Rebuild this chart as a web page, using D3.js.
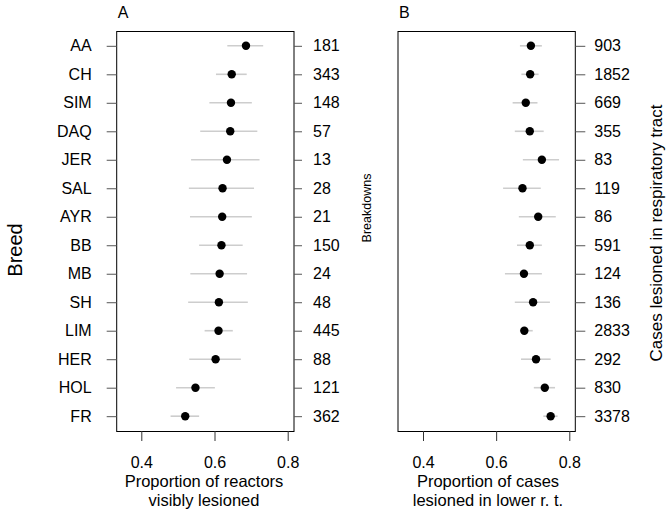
<!DOCTYPE html>
<html>
<head>
<meta charset="utf-8">
<script src="https://cdn.jsdelivr.net/npm/d3@7"></script>
<style>
  body { margin: 0; background: #fff; }
  svg { display: block; font-family: "Liberation Sans", Arial, sans-serif; }
</style>
</head>
<body>
<svg id="chart" width="671" height="516"></svg>
<script>
// ---- data ----
const breeds = ["AA","CH","SIM","DAQ","JER","SAL","AYR","BB","MB","SH","LIM","HER","HOL","FR"];
const breakdowns = [181,343,148,57,13,28,21,150,24,48,445,88,121,362];
const casesLesioned = [903,1852,669,355,83,119,86,591,124,136,2833,292,830,3378];

const propReactors = [0.686,0.647,0.645,0.643,0.634,0.622,0.621,0.619,0.614,0.612,0.611,0.603,0.548,0.520];
const propReactorsLo = [0.635,0.604,0.586,0.561,0.536,0.530,0.533,0.558,0.534,0.528,0.573,0.531,0.495,0.480];
const propReactorsHi = [0.733,0.688,0.702,0.717,0.723,0.708,0.702,0.677,0.689,0.691,0.650,0.672,0.601,0.558];

const propLower = [0.695,0.693,0.681,0.692,0.725,0.672,0.715,0.692,0.676,0.701,0.677,0.709,0.733,0.749];
const propLowerLo = [0.665,0.669,0.645,0.651,0.673,0.619,0.662,0.657,0.624,0.651,0.665,0.668,0.703,0.729];
const propLowerHi = [0.725,0.716,0.713,0.730,0.772,0.722,0.763,0.725,0.725,0.747,0.700,0.749,0.761,0.768];

const xTicks = [0.4, 0.6, 0.8];

// ---- layout ----
const svg = d3.select("#chart");
const plotTop = 31, plotBottom = 431;
const fs = 16;
const ff = "Liberation Sans, Arial, sans-serif";

const y = d3.scalePoint().domain(breeds).range([plotTop, plotBottom]).padding(0.52);

const panels = [
  { left: 116.7, right: 294, x0: 141.3, x1: 287.7, letter: "A",
    mid: propReactors, lo: propReactorsLo, hi: propReactorsHi,
    counts: breakdowns, rightPad: 11, rightTick: 8, labelX: 204,
    xlab: ["Proportion of reactors", "visibly lesioned"], leftAxis: true },
  { left: 398, right: 575.3, x0: 423, x1: 569.3, letter: "B",
    mid: propLower, lo: propLowerLo, hi: propLowerHi,
    counts: casesLesioned, rightPad: 9, rightTick: 10, labelX: 488,
    xlab: ["Proportion of cases", "lesioned in lower r. t."], leftAxis: false }
];

panels.forEach(p => {
  const x = d3.scaleLinear().domain([0.4, 0.8]).range([p.x0, p.x1]);
  const g = svg.append("g");

  // CI lines
  g.selectAll("line.ci").data(breeds).join("line")
    .attr("class", "ci")
    .attr("x1", (d, i) => x(p.lo[i])).attr("x2", (d, i) => x(p.hi[i]))
    .attr("y1", d => y(d)).attr("y2", d => y(d))
    .attr("stroke", "#cdcdcd").attr("stroke-width", 1.6);

  // points
  g.selectAll("circle").data(breeds).join("circle")
    .attr("cx", (d, i) => x(p.mid[i])).attr("cy", d => y(d))
    .attr("r", 4.2).attr("fill", "#000");

  // box
  g.append("rect")
    .attr("x", p.left).attr("y", plotTop + 0.5)
    .attr("width", p.right - p.left).attr("height", plotBottom - plotTop)
    .attr("fill", "none").attr("stroke", "#000").attr("stroke-width", 1);

  // bottom axis
  const xa = g.append("g").attr("transform", `translate(0,${plotBottom})`)
    .call(d3.axisBottom(x).tickValues(xTicks).tickFormat(d3.format(".1f"))
      .tickSize(10).tickPadding(15.5).tickSizeOuter(0));
  xa.select(".domain").attr("stroke", "#000");
  xa.selectAll(".tick line").attr("stroke", "#333");
  xa.selectAll("text").attr("font-size", fs).attr("font-family", ff).attr("fill", "#000");

  // right axis (counts)
  const ra = g.append("g").attr("transform", `translate(${p.right},0)`)
    .call(d3.axisRight(y).tickFormat((d) => p.counts[breeds.indexOf(d)])
      .tickSize(p.rightTick).tickPadding(p.rightPad).tickSizeOuter(0));
  ra.select(".domain").remove();
  ra.selectAll(".tick line").attr("stroke", "#555");
  ra.selectAll("text").attr("font-size", fs).attr("font-family", ff).attr("fill", "#000");

  // left axis (breeds)
  if (p.leftAxis) {
    const la = g.append("g").attr("transform", `translate(${p.left},0)`)
      .call(d3.axisLeft(y).tickSize(10).tickPadding(15).tickSizeOuter(0));
    la.select(".domain").remove();
    la.selectAll(".tick line").attr("stroke", "#555");
    la.selectAll("text").attr("font-size", fs).attr("font-family", ff).attr("fill", "#000");
  }

  // panel letter
  g.append("text").attr("x", p.left + 1).attr("y", 18)
    .attr("font-size", fs).text(p.letter);

  // x label
  g.append("text").attr("x", p.labelX).attr("y", 487).attr("text-anchor", "middle")
    .attr("font-size", 16.5).text(p.xlab[0]);
  g.append("text").attr("x", p.labelX).attr("y", 506).attr("text-anchor", "middle")
    .attr("font-size", 16.5).text(p.xlab[1]);
});

// side labels
svg.append("text").attr("transform", "translate(22,250) rotate(-90)")
  .attr("text-anchor", "middle").attr("font-size", 20).text("Breed");
svg.append("text").attr("transform", "translate(371,208) rotate(-90)")
  .attr("text-anchor", "middle").attr("font-size", 12.5).text("Breakdowns");
svg.append("text").attr("transform", "translate(662,233) rotate(-90)")
  .attr("text-anchor", "middle").attr("font-size", 17).text("Cases lesioned in respiratory tract");
</script>
</body>
</html>
